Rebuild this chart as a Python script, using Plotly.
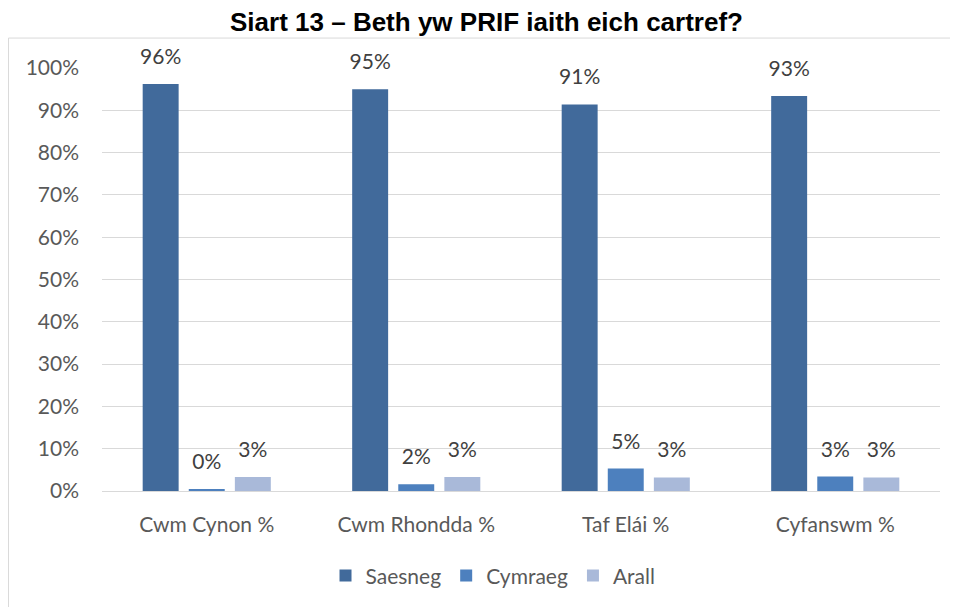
import plotly.graph_objects as go

categories = ["Cwm Cynon %", "Cwm Rhondda %", "Taf Elái %", "Cyfanswm %"]
saesneg = [96.2, 95.0, 91.4, 93.4]
cymraeg = [0.45, 1.6, 5.3, 3.4]
arall = [3.3, 3.3, 3.2, 3.2]
y_ticks = list(range(0, 101, 10))
y_labels = [f"{v}%" for v in y_ticks]

series = [
    ("Saesneg", saesneg, "#416A9B"),
    ("Cymraeg", cymraeg, "#4D80BE"),
    ("Arall", arall, "#A9B9D9"),
]

fig = go.Figure()
for name, vals, colour in series:
    fig.add_trace(go.Bar(
        x=categories, y=vals, name=name,
        marker=dict(color=colour, line=dict(width=0)),
    ))

# data labels: grouped text-only scatter, a hidden marker keeps them clear of the bar top
for name, vals, colour in series:
    fig.add_trace(go.Scatter(
        x=categories, y=vals, mode="markers+text", showlegend=False,
        marker=dict(size=22, opacity=0),
        texttemplate="%{y:.0f}%", textposition="top center",
        textfont=dict(family="Lato", size=21, color="#404040"),
        cliponaxis=False, hoverinfo="skip",
    ))

# outer chart frame (right and bottom run off the page, as in the source)
fig.add_shape(type="rect", xref="paper", yref="paper",
              x0=-0.1116, x1=1.2, y0=-0.4, y1=1.0708,
              line=dict(color="#D9D9D9", width=1), layer="below")

# page body has an 8px margin, so the figure is 8px smaller and offset
fig.update_layout(
    width=950, height=599,
    margin=dict(l=94, r=18, t=60, b=115),
    paper_bgcolor="white", plot_bgcolor="white",
    title=dict(text="<b>Siart 13 – Beth yw PRIF iaith eich cartref?</b>",
               x=0.5037, xanchor="center", y=0.977, yanchor="middle",
               font=dict(family="Liberation Sans", size=26, color="black")),
    barmode="group", bargap=0.34, bargroupgap=0.22,
    scattermode="group", scattergap=0.34,
    font=dict(family="Lato", color="#595959", size=21),
    legend=dict(orientation="h", x=0.4666, xanchor="center", y=-0.198, yanchor="middle",
                font=dict(family="Lato", size=21, color="#595959"),
                itemwidth=30, traceorder="normal"),
)
fig.update_yaxes(range=[0, 100], tickvals=y_ticks, ticktext=y_labels,
                 showgrid=True, gridcolor="#D9D9D9", gridwidth=1,
                 zeroline=False, showline=False, ticks="", ticklabelstandoff=22,
                 tickfont=dict(family="Lato", size=21, color="#595959"))
fig.update_xaxes(showline=True, linecolor="#D9D9D9", linewidth=1, ticks="",
                 ticklabelstandoff=15,
                 tickfont=dict(family="Lato", size=21, color="#595959"))

fig.write_html("out.html")
